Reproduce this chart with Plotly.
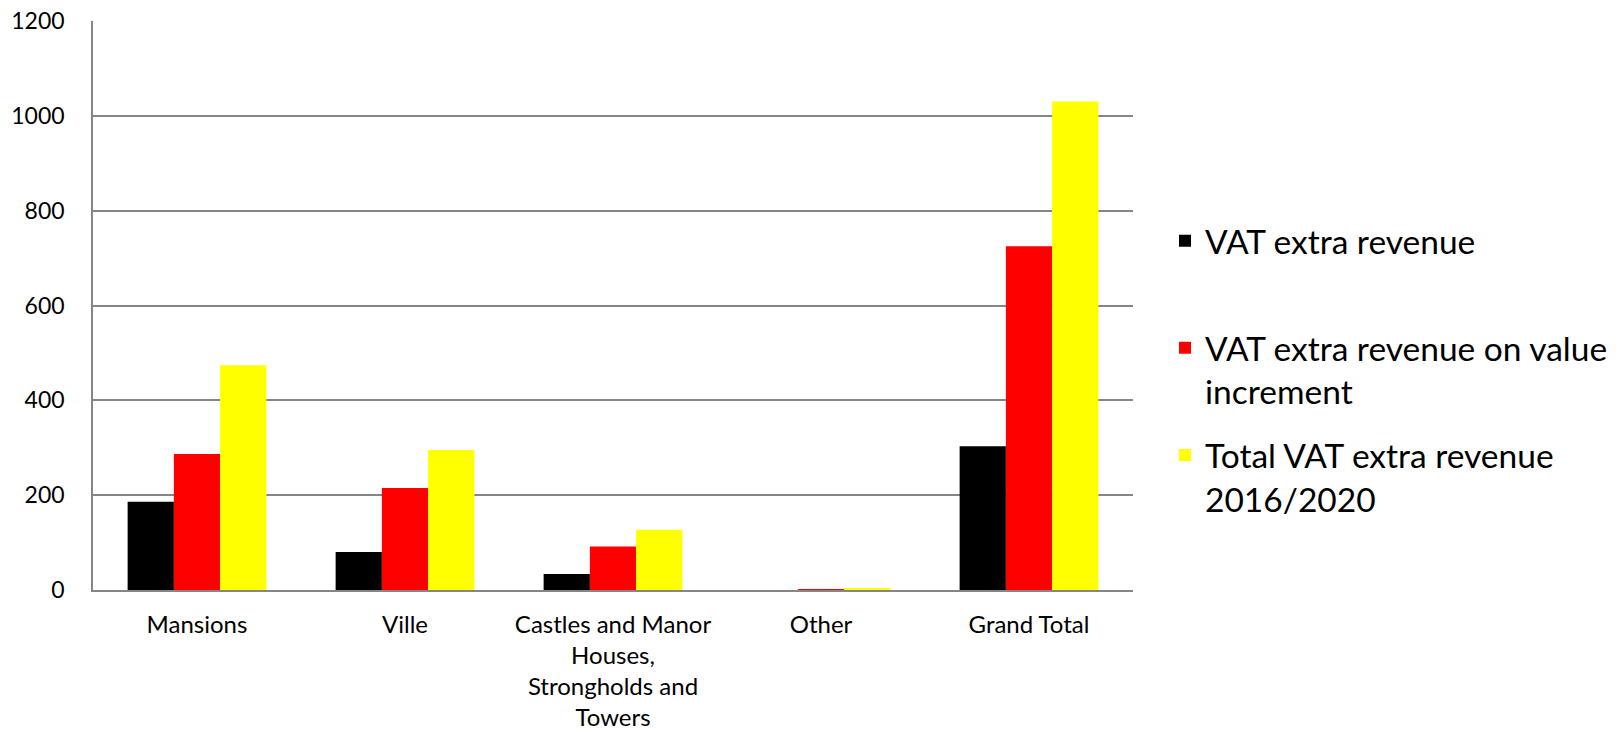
import plotly.graph_objects as go

categories = ["Mansions", "Ville", "Castles and Manor<br>Houses,<br>Strongholds and<br>Towers", "Other", "Grand Total"]
vat_extra = [186, 80, 34, 0, 303]
vat_value_inc = [287, 215, 92, 2, 725]
vat_total = [474, 295, 127, 4, 1030]

series_names = [
    "VAT extra revenue<br> ",
    "VAT extra revenue on value<br>increment",
    "Total VAT extra revenue<br>2016/2020",
]
colors = ["#000000", "#FF0000", "#FFFF00"]
series_values = [vat_extra, vat_value_inc, vat_total]

FONT = "Lato"

fig = go.Figure()
for i, (name, vals, col) in enumerate(zip(series_names, series_values, colors)):
    fig.add_trace(go.Bar(
        x=categories, y=vals, name=name, marker=dict(color=col, line=dict(width=0)),
        legendgroup=f"g{i}",
    ))

fig.update_layout(
    width=1621, height=732,
    margin=dict(l=93, r=488, t=21, b=142),
    paper_bgcolor="white", plot_bgcolor="white",
    barmode="group", bargap=0.333, bargroupgap=0,
    font=dict(family=FONT, color="black", size=23),
    showlegend=True,
    legend=dict(
        x=0.7187, xanchor="left", xref="container",
        y=0.7097, yanchor="top", yref="container",
        font=dict(family=FONT, size=33.5, color="black"),
        valign="top", tracegroupgap=17,
        bgcolor="rgba(0,0,0,0)",
    ),
    xaxis=dict(
        showline=True, linecolor="#868686", linewidth=1.5,
        ticks="", tickfont=dict(size=24), ticklabelstandoff=12,
        showgrid=False, automargin=False,
    ),
    yaxis=dict(
        range=[0, 1200], dtick=200, tick0=0,
        showline=True, linecolor="#868686", linewidth=1.5,
        showgrid=True, gridcolor="#868686", gridwidth=1.5,
        ticks="", tickfont=dict(size=23), ticklabelstandoff=22,
        zeroline=False, automargin=False,
    ),
)

fig.write_html("out.html")
